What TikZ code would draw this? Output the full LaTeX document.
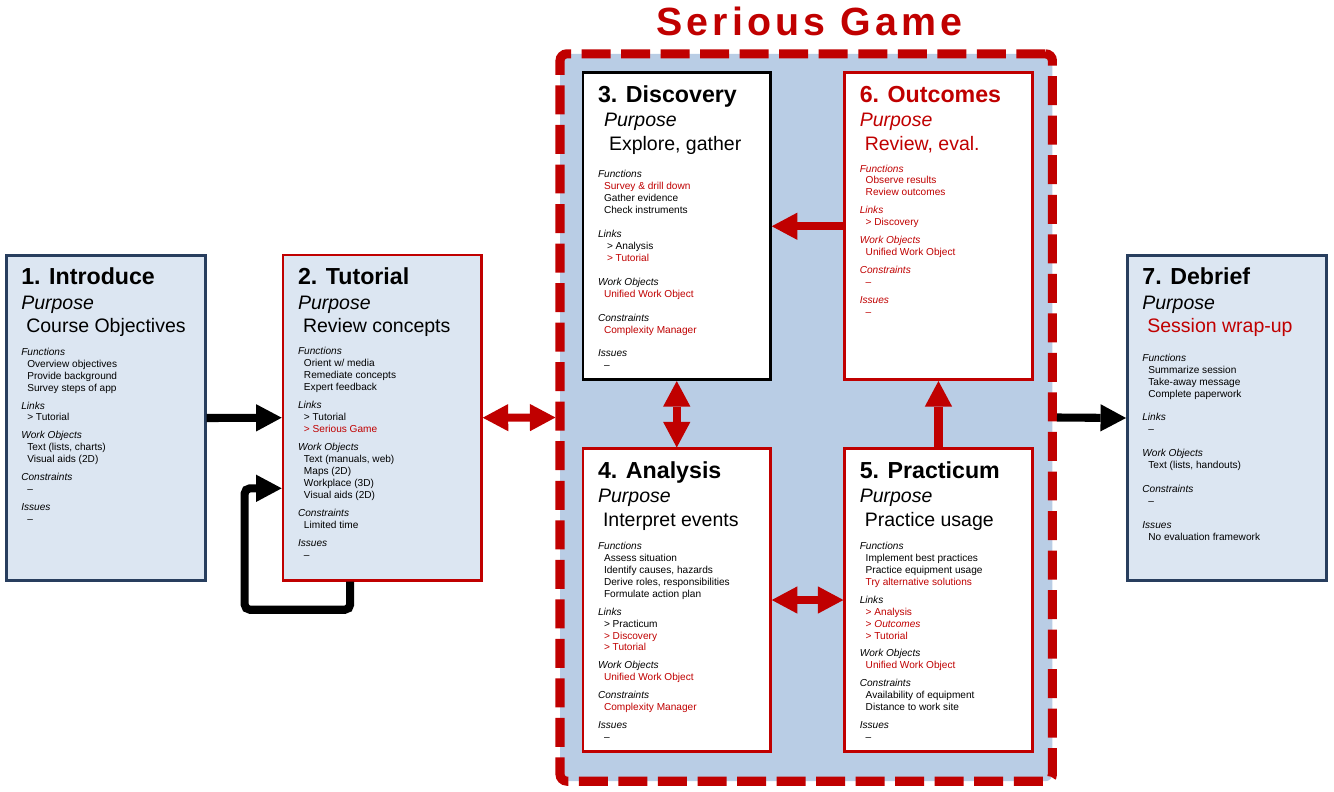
\documentclass[tikz,border=0pt]{standalone}
\usepackage{fontspec}
\setmainfont{Liberation Sans}
\usepackage{tikz}
\usetikzlibrary{calc}
\usetikzlibrary{arrows.meta}

\definecolor{gameRed}{RGB}{192,0,0}
\definecolor{gameBlue}{RGB}{185,205,229}
\definecolor{paleBlue}{RGB}{220,230,242}
\definecolor{navyEdge}{RGB}{40,62,94}

\begin{document}
\begin{tikzpicture}[x=0.02cm, y=-0.02cm,
    bigTip/.tip={Triangle[length=14.5pt, width=15.5pt, line width=0pt]},
    stage/.style={rectangle, line width=1.5pt, minimum width=3.98cm, minimum height=6.51cm, inner sep=0pt},
    gameStage/.style={rectangle, line width=1.5pt, fill=white, minimum width=3.75cm, inner sep=0pt},
    headText/.style={inner sep=0pt, font=\fontsize{13.2}{15}\selectfont\bfseries},
    purposeText/.style={inner sep=0pt, font=\fontsize{11.1}{13}\selectfont\itshape},
    aimText/.style={inner sep=0pt, font=\fontsize{11.1}{13}\selectfont},
    bodyText/.style={inner sep=0pt, align=left, anchor=north west, font=\fontsize{5.75}{6.8}\selectfont},
    blackArrow/.style={draw=black, line width=4.6pt, -bigTip},
    redArrow/.style={draw=gameRed, line width=4.6pt, -bigTip},
  ]
    \useasboundingbox (0,0) rectangle (1334,791);

    % Columns and rows of the serious game
    \def\leftCol{676.75}
    \def\rightCol{938.45}
    \def\topRow{226.25}
    \def\lowRow{600}

    % Little helpers for the texts
    \def\sectHead#1{\textit{#1}}
    \def\entry#1{\hspace*{3.4pt}#1}
    \def\red#1{\textcolor{gameRed}{#1}}
    \def\boxHead#1#2#3#4#5{% node, title, aim, colour, shift
      \node[headText, text=#4, anchor=base west] (#1Title) at ($(#1.north west)+(16,31)$) {#2};
      \node[purposeText, text=#4, anchor=base west] (#1Purpose) at ($(#1.north west)+(16+#5,55.5)$) {Purpose};
      \node[aimText, anchor=base west] (#1Aim) at ($(#1.north west)+(21+#5,79)$) {#3};}

    % Frame of the serious game
    \coordinate (G) at (806.2,417.5);
    \node[rectangle, draw=gameRed, fill=gameBlue, line width=5.2pt, dash pattern=on 16.5pt off 6pt, rounded corners=4pt, minimum width=9.85cm, minimum height=14.55cm] (game) at (G) {};
    \node[anchor=base, text=gameRed, font=\fontsize{22.4}{26}\selectfont\bfseries\addfontfeature{LetterSpace=10.5}] (gameTitle) at (809.5,35) {Serious Game};

    % Stages outside the game
    \node[stage, draw=navyEdge, fill=paleBlue] (intro) at (105.75,418) {};
    \node[stage, draw=gameRed, fill=paleBlue, minimum width=3.97cm] (tutorial) at (382.2,417.7) {};
    \node[stage, draw=navyEdge, fill=paleBlue] (debrief) at (1226.8,418) {};

    % Stages inside the game
    \node[gameStage, draw=black, minimum height=6.14cm] (discovery) at (\leftCol,\topRow) {};
    \node[gameStage, draw=gameRed, minimum height=6.14cm] (outcomes) at (\rightCol,\topRow) {};
    \node[gameStage, draw=gameRed, minimum height=6.05cm] (analysis) at (\leftCol,\lowRow) {};
    \node[gameStage, draw=gameRed, minimum height=6.05cm] (practicum) at (\rightCol,\lowRow) {};

    % 1. Introduce
    \boxHead{intro}{1. Introduce}{Course Objectives}{black}{0}
    \node[bodyText] (introBody) at ($(intro.north west)+(16,93.6)$) {
      \sectHead{Functions}\\
      \entry{Overview objectives}\\
      \entry{Provide background}\\
      \entry{Survey steps of app}\\[3.4pt]
      \sectHead{Links}\\
      \entry{> Tutorial}\\[3.4pt]
      \sectHead{Work Objects}\\
      \entry{Text (lists, charts)}\\
      \entry{Visual aids (2D)}\\[3.4pt]
      \sectHead{Constraints}\\
      \entry{--}\\[3.4pt]
      \sectHead{Issues}\\
      \entry{--}};

    % 2. Tutorial
    \boxHead{tutorial}{2. Tutorial}{Review concepts}{black}{0}
    \node[bodyText] (tutorialBody) at ($(tutorial.north west)+(16,93.6)$) {
      \sectHead{Functions}\\
      \entry{Orient w/ media}\\
      \entry{Remediate concepts}\\
      \entry{Expert feedback}\\[3.4pt]
      \sectHead{Links}\\
      \entry{> Tutorial}\\
      \entry{\red{> Serious Game}}\\[3.4pt]
      \sectHead{Work Objects}\\
      \entry{Text (manuals, web)}\\
      \entry{Maps (2D)}\\
      \entry{Workplace (3D)}\\
      \entry{Visual aids (2D)}\\[3.4pt]
      \sectHead{Constraints}\\
      \entry{Limited time}\\[3.4pt]
      \sectHead{Issues}\\
      \entry{--}};

    % 3. Discovery
    \boxHead{discovery}{3. Discovery}{Explore, gather}{black}{6}
    \node[bodyText] (discoveryBody) at ($(discovery.north west)+(16,98.6)$) {
      \sectHead{Functions}\\
      \entry{\red{Survey \& drill down}}\\
      \entry{Gather evidence}\\
      \entry{Check instruments}\\[6.8pt]
      \sectHead{Links}\\
      \entry{\hspace*{1.7pt}> Analysis}\\
      \entry{\hspace*{1.7pt}\red{> Tutorial}}\\[6.8pt]
      \sectHead{Work Objects}\\
      \entry{\red{Unified Work Object}}\\[6.8pt]
      \sectHead{Constraints}\\
      \entry{\red{Complexity Manager}}\\[6.8pt]
      \sectHead{Issues}\\
      \entry{--}};

    % 4. Analysis
    \boxHead{analysis}{4. Analysis}{Interpret events}{black}{0}
    \node[bodyText] (analysisBody) at ($(analysis.north west)+(16,94.3)$) {
      \sectHead{Functions}\\
      \entry{Assess situation}\\
      \entry{Identify causes, hazards}\\
      \entry{Derive roles, responsibilities}\\
      \entry{Formulate action plan}\\[3.4pt]
      \sectHead{Links}\\
      \entry{> Practicum}\\
      \entry{\red{> Discovery}}\\
      \entry{\red{> Tutorial}}\\[3.4pt]
      \sectHead{Work Objects}\\
      \entry{\red{Unified Work Object}}\\[3.4pt]
      \sectHead{Constraints}\\
      \entry{\red{Complexity Manager}}\\[3.4pt]
      \sectHead{Issues}\\
      \entry{--}};

    % 5. Practicum
    \boxHead{practicum}{5. Practicum}{Practice usage}{black}{0}
    \node[bodyText] (practicumBody) at ($(practicum.north west)+(16,94.3)$) {
      \sectHead{Functions}\\
      \entry{Implement best practices}\\
      \entry{Practice equipment usage}\\
      \entry{\red{Try alternative solutions}}\\[3.4pt]
      \sectHead{Links}\\
      \entry{\red{> Analysis}}\\
      \entry{\red{> \textit{Outcomes}}}\\
      \entry{\red{> Tutorial}}\\[3.4pt]
      \sectHead{Work Objects}\\
      \entry{\red{Unified Work Object}}\\[3.4pt]
      \sectHead{Constraints}\\
      \entry{Availability of equipment}\\
      \entry{Distance to work site}\\[3.4pt]
      \sectHead{Issues}\\
      \entry{--}};

    % 6. Outcomes
    \boxHead{outcomes}{6. Outcomes}{\red{Review, eval.}}{gameRed}{0}
    \node[bodyText, text=gameRed] (outcomesBody) at ($(outcomes.north west)+(16,92.9)$) {
      \sectHead{Functions}\\
      \entry{Observe results}\\
      \entry{Review outcomes}\\[3.4pt]
      \sectHead{Links}\\
      \entry{> Discovery}\\[3.4pt]
      \sectHead{Work Objects}\\
      \entry{Unified Work Object}\\[3.4pt]
      \sectHead{Constraints}\\
      \entry{--}\\[3.4pt]
      \sectHead{Issues}\\
      \entry{--}};

    % 7. Debrief
    \boxHead{debrief}{7. Debrief}{\red{Session wrap-up}}{black}{0}
    \node[bodyText] (debriefBody) at ($(debrief.north west)+(16,99.6)$) {
      \sectHead{Functions}\\
      \entry{Summarize session}\\
      \entry{Take-away message}\\
      \entry{Complete paperwork}\\[6.8pt]
      \sectHead{Links}\\
      \entry{--}\\[6.8pt]
      \sectHead{Work Objects}\\
      \entry{Text (lists, handouts)}\\[6.8pt]
      \sectHead{Constraints}\\
      \entry{--}\\[6.8pt]
      \sectHead{Issues}\\
      \entry{No evaluation framework}};

    % Connectors between the stages
    \coordinate (loopStart) at ($(tutorial.south)+(-32,0)$);
    \coordinate (loopEnd) at ($(tutorial.west)+(0,70.6)$);
    \draw[blackArrow] (intro.east) -- (tutorial.west);
    \draw[blackArrow, rounded corners=3pt] (loopStart) -- ++(0,28) -| ($(loopEnd)+(-37,0)$) -- (loopEnd);
    \draw[redArrow, bigTip-bigTip] (tutorial.east) -- (game.west);
    \draw[blackArrow] (game.east) -- (debrief.west);
    \draw[redArrow] (outcomes.west) -- (discovery.east);
    \draw[redArrow, bigTip-bigTip] (discovery.south) -- (analysis.north);
    \draw[redArrow, bigTip-bigTip] (analysis.east) -- (practicum.west);
    \draw[redArrow] (practicum.north) -- (outcomes.south);

\end{tikzpicture}
\end{document}
